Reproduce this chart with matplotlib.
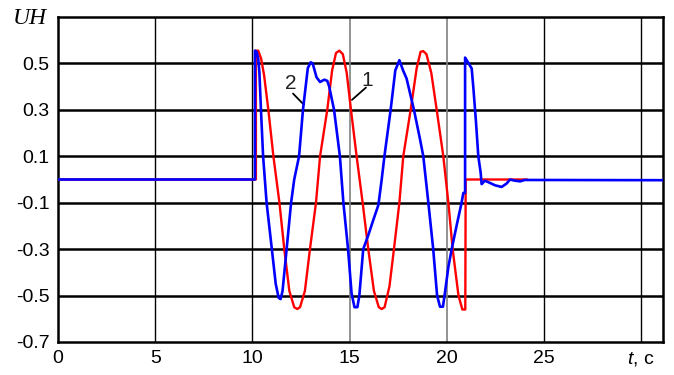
import matplotlib
matplotlib.use("Agg")
import matplotlib.pyplot as plt

# ---- data ----
t_blue = [0, 10.13, 10.13, 10.22, 10.30, 10.36, 10.44, 10.55, 10.73, 11.0, 11.2, 11.35, 11.45,
          11.55, 11.76, 11.99, 12.15, 12.4, 12.6, 12.85, 13.0, 13.1, 13.3, 13.48, 13.7, 13.85,
          13.95, 14.2, 14.5, 14.68, 14.92, 15.1, 15.25, 15.4, 15.5, 15.7, 15.96, 16.22, 16.48,
          16.65, 16.79, 17.11, 17.35, 17.56, 17.75, 17.93, 18.31, 18.62, 18.79, 19.05, 19.3,
          19.5, 19.65, 19.8, 19.9, 20.08, 20.25, 20.5, 20.76, 20.85, 20.94, 20.94, 21.05, 21.28,
          21.37, 21.5, 21.62, 21.74, 21.79, 21.96, 22.2, 22.48, 22.82, 23.08, 23.25, 23.5,
          23.77, 24.0, 31.2]
v_blue = [0, 0, 0.555, 0.55, 0.52, 0.46, 0.3, 0.1, -0.1, -0.3, -0.45, -0.51, -0.515,
          -0.48, -0.3, -0.1, 0.0, 0.1, 0.3, 0.48, 0.505, 0.5, 0.44, 0.42, 0.43, 0.425,
          0.4, 0.3, 0.1, -0.1, -0.3, -0.49, -0.55, -0.55, -0.5, -0.3, -0.24, -0.174, -0.11,
          0.0, 0.1, 0.3, 0.47, 0.514, 0.47, 0.435, 0.3, 0.174, 0.1, -0.1, -0.3,
          -0.5, -0.548, -0.548, -0.49, -0.377, -0.3, -0.2, -0.1, -0.058, -0.058, 0.525, 0.51, 0.478,
          0.39, 0.248, 0.1, 0.03, -0.02, -0.005, -0.014, -0.025, -0.032, -0.017, 0.0, -0.005,
          -0.008, -0.002, -0.003]

t_red = [0, 10.18, 10.18, 10.30, 10.45, 10.6, 10.82, 11.08, 11.39, 11.64, 11.9, 12.15, 12.31,
         12.45, 12.7, 12.96, 13.27, 13.48, 13.85, 14.1, 14.3, 14.47, 14.65, 14.85, 15.07,
         15.36, 15.67, 15.96, 16.25, 16.5, 16.65, 16.8, 17.05, 17.28, 17.56, 17.76, 18.14,
         18.45, 18.65, 18.79, 18.95, 19.2, 19.48, 19.82, 20.08, 20.3, 20.6, 20.8, 20.95,
         20.97, 24.1]
v_red = [0, 0, 0.555, 0.555, 0.52, 0.45, 0.3, 0.1, -0.1, -0.3, -0.48, -0.55, -0.558,
         -0.55, -0.48, -0.3, -0.1, 0.1, 0.3, 0.47, 0.545, 0.555, 0.54, 0.46, 0.3,
         0.1, -0.1, -0.3, -0.48, -0.55, -0.558, -0.55, -0.46, -0.3, -0.1, 0.1, 0.3,
         0.48, 0.55, 0.553, 0.54, 0.46, 0.3, 0.1, -0.1, -0.3, -0.5, -0.56, -0.56,
         0.0, 0.0]

x_ticks = [0, 5, 10, 15, 20, 25, 30]
x_labels = ["0", "5", "10", "15", "20", "25", r"$\it{t}$, c"]
y_ticks = [-0.7, -0.5, -0.3, -0.1, 0.1, 0.3, 0.5]
y_labels = ["-0.7", "-0.5", "-0.3", "-0.1", "0.1", "0.3", "0.5"]

plt.rcParams["font.family"] = ["Liberation Sans", "DejaVu Sans"]
plt.rcParams["mathtext.fontset"] = "custom"
plt.rcParams["mathtext.it"] = "Liberation Sans:italic"
plt.rcParams["mathtext.rm"] = "Liberation Sans"

fig = plt.figure(figsize=(6.74, 3.75), dpi=100)
ax = fig.add_axes([58 / 674, 33 / 375, 605 / 674, 325 / 375])
ax.set_xlim(0, 31.12)
ax.set_ylim(-0.7, 0.7)

# grid
for yv in [-0.5, -0.3, -0.1, 0.1, 0.3, 0.5]:
    ax.axhline(yv, color="black", lw=1.8, zorder=1)
for xv in [5, 10, 25, 30]:
    ax.axvline(xv, color="black", lw=1.0, zorder=1)
for xv in [15, 20]:
    ax.axvline(xv, color="#808080", lw=1.2, zorder=1)

ax.plot(t_red, v_red, color="#ff0000", lw=1.7, zorder=3)
ax.plot(t_blue, v_blue, color="#0000ff", lw=1.9, zorder=4)

ax.set_xticks(x_ticks)
ax.set_xticklabels(x_labels, fontsize=14)
ax.set_yticks(y_ticks)
ax.set_yticklabels(y_labels, fontsize=14)
ax.tick_params(length=0, pad=6)

for s in ax.spines.values():
    s.set_linewidth(1.8)
    s.set_color("black")

fig.text(30 / 674, 1 - 19 / 375, "UH", fontsize=17, family="Liberation Serif",
         style="italic", ha="center", va="center")

# curve labels with leader lines
ax.text(11.99, 0.415, "2", fontsize=15, color="#222222", ha="center", va="center", zorder=5)
ax.annotate("", xy=(12.65, 0.322), xytext=(12.09, 0.37),
            arrowprops=dict(arrowstyle="-", color="black", lw=1.3, shrinkA=0, shrinkB=0))
ax.text(15.92, 0.425, "1", fontsize=15, color="#222222", ha="center", va="center", zorder=5)
ax.annotate("", xy=(15.12, 0.343), xytext=(15.84, 0.396),
            arrowprops=dict(arrowstyle="-", color="black", lw=1.3, shrinkA=0, shrinkB=0))

fig.savefig("out.png", dpi=100)
